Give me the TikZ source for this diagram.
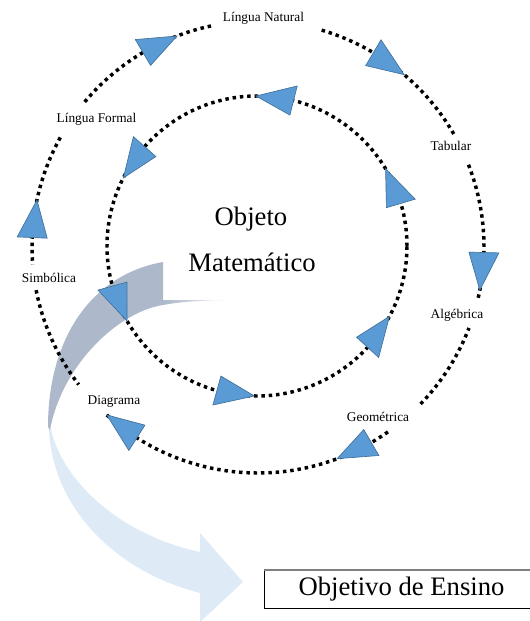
\documentclass[tikz,border=0pt]{standalone}
\usepackage{fontspec}
\setmainfont{Liberation Serif}
\definecolor{triblue}{HTML}{5B9BD5}
\definecolor{triedge}{HTML}{41719C}
\definecolor{backband}{HTML}{ADB9CA}
\definecolor{frontband}{HTML}{DEEBF7}
\tikzset{
  dots/.style={line width=2.6pt,dash pattern=on 2.6pt off 2.9pt},
  tri/.style={fill=triblue,draw=triedge,line width=.5pt},
  lbl/.style={font=\fontsize{10}{12}\selectfont,anchor=base,inner sep=0pt},
  big/.style={font=\fontsize{20}{24}\selectfont,anchor=base,inner sep=0pt}
}
\begin{document}
\begin{tikzpicture}[x=.75pt,y=.75pt]
        \useasboundingbox (0,0) rectangle (530,-621);
        \coordinate (outer) at (258,-247);
        \coordinate (inner) at (257,-246);
        % big curved arrow
        \fill[frontband] (49,-415) .. controls (45,-500) and (110,-570) .. (200,-593) -- (200,-622) -- (243,-582) -- (200,-533) -- (200,-552) .. controls (120,-535) and (60,-480) .. (50,-425) -- cycle;
        \fill[backband] (163,-262) -- (163,-305) .. controls (118,-312) and (62,-365) .. (50,-430) -- (48,-427) .. controls (48,-340) and (90,-275) .. (163,-262) -- cycle;
        \shade[left color=backband,right color=white] (163,-300) -- (243,-300) .. controls (200,-300) and (180,-302) .. (163,-305) -- cycle;
        % circles
        \draw[dots] (inner) circle (150);
        \foreach \s/\e in {102/141,30/74.5,-13/22,-44/-21,-132/-54,191/217.5,151/184.5}
            \draw[dots] ([shift={(\s:226)}]outer) arc (\s:\e:226);
        \begin{scope}[shift={(outer)}]
            \foreach \a in {111,49.7,-11,-69.5,-132,168}
                \draw[tri] (\a:226) -- (\a+9.6:241) -- (\a+9.6:211) -- cycle;
        \end{scope}
        \begin{scope}[shift={(inner)}]
            \foreach \a in {90.4,153,210,269,-28,31}
                \draw[tri] (\a:150) -- (\a-14.5:165) -- (\a-14.5:135) -- cycle;
        \end{scope}
        % labels
        \node[lbl] (natural) at (263.5,-21.5) {Língua Natural};
        \node[lbl] (tabular) at (451,-150.7) {Tabular};
        \node[lbl] (algebrica) at (457,-318.3) {Algébrica};
        \node[lbl] (geometrica) at (378,-421) {Geométrica};
        \node[lbl] (diagrama) at (114,-404) {Diagrama};
        \node[lbl] (simbolica) at (49,-282.7) {Simbólica};
        \node[lbl] (formal) at (96.5,-122.7) {Língua Formal};
        \node[big] (objeto) at (251,-225) {Objeto};
        \node[big] (matematico) at (252,-271.7) {Matemático};
        \node[draw,line width=.75pt,minimum width=206.25pt,minimum height=28.5pt,inner sep=0pt,font=\fontsize{20}{24}\selectfont] (ensino) at (401.5,-589) {Objetivo de Ensino};
        \draw[gray,line width=1.5pt] (ensino.north west) -- (ensino.north east);
    \end{tikzpicture}
\end{document}
